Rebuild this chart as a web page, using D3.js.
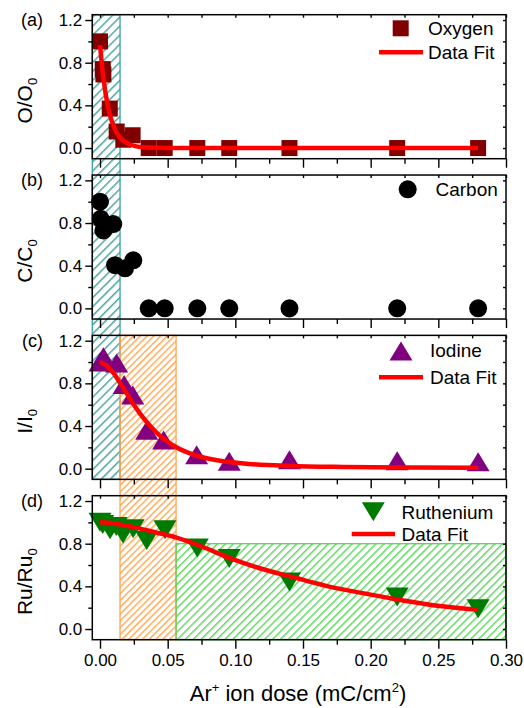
<!DOCTYPE html>
<html><head><meta charset="utf-8">
<script src="https://cdn.jsdelivr.net/npm/d3@7"></script>
<style>
body{margin:0;background:#fff}
svg{display:block}
text{font-family:"Liberation Sans",Arial,Helvetica,sans-serif;fill:#000}
</style>
</head><body>
<svg id="chart" width="524" height="708"></svg>
<script>
// ---------------- data ----------------
const xTicks = [0, 0.05, 0.10, 0.15, 0.20, 0.25, 0.30];
const xMinorTicks = [0.025, 0.075, 0.125, 0.175, 0.225, 0.275];
const yTicks = [0.0, 0.4, 0.8, 1.2];
const yMinorTicks = [0.2, 0.6, 1.0];

const panelLabels = ["(a)", "(b)", "(c)", "(d)"];
const yTitleMain = ["O/O", "C/C", "I/I", "Ru/Ru"];
const yTitleSub = ["0", "0", "0", "0"];

// Oxygen
const doseO = [0, 0.002, 0.0025, 0.0072, 0.0123, 0.0172, 0.0241, 0.036, 0.0478, 0.0719, 0.0955, 0.14, 0.2196, 0.2794];
const oxygen = [1.0, 0.74, 0.69, 0.37, 0.155, 0.078, 0.12, 0, 0, 0, 0, 0, 0, 0];
const fitODose = [0, 0.001, 0.002, 0.003, 0.004, 0.005, 0.006, 0.008, 0.010, 0.012, 0.015, 0.018, 0.022, 0.026, 0.030, 0.040, 0.060, 0.10, 0.20, 0.2794];
const fitO = [0.965, 0.83, 0.71, 0.61, 0.52, 0.45, 0.38, 0.28, 0.21, 0.15, 0.096, 0.061, 0.033, 0.018, 0.010, 0.003, 0, 0, 0, 0];

// Carbon
const doseC = [0, 0.0005, 0.0025, 0.0098, 0.0111, 0.0185, 0.0246, 0.036, 0.0478, 0.0719, 0.0955, 0.14, 0.2196, 0.2794];
const carbon = [1.0, 0.84, 0.73, 0.79, 0.405, 0.375, 0.45, 0, 0, 0, 0, 0, 0, 0];

// Iodine
const doseI = [0, 0.0025, 0.0123, 0.0178, 0.0242, 0.0345, 0.047, 0.0714, 0.0955, 0.14, 0.2196, 0.2794];
const iodine = [1.0, 1.05, 0.99, 0.79, 0.69, 0.36, 0.27, 0.13, 0.07, 0.085, 0.075, 0.066];
const fitIDose = [0, 0.005, 0.010, 0.015, 0.020, 0.025, 0.030, 0.035, 0.040, 0.047, 0.055, 0.065, 0.075, 0.090, 0.110, 0.140, 0.180, 0.230, 0.2794];
const fitI = [1.0, 0.965, 0.895, 0.80, 0.70, 0.60, 0.51, 0.43, 0.36, 0.28, 0.21, 0.15, 0.11, 0.072, 0.045, 0.026, 0.016, 0.011, 0.009];

// Ruthenium
const doseR = [0, 0.002, 0.0074, 0.012, 0.017, 0.0245, 0.0345, 0.048, 0.0719, 0.0955, 0.14, 0.2196, 0.2794];
const ruthenium = [1.0, 0.98, 0.93, 0.96, 0.89, 0.94, 0.83, 0.93, 0.76, 0.66, 0.44, 0.30, 0.19];
const fitRDose = [0, 0.010, 0.025, 0.040, 0.056, 0.074, 0.098, 0.118, 0.143, 0.167, 0.199, 0.224, 0.251, 0.2794];
const fitR = [1.0, 0.99, 0.955, 0.91, 0.86, 0.78, 0.655, 0.57, 0.485, 0.405, 0.325, 0.268, 0.215, 0.18];

// shaded dose regions
const tealRegion = [null, 0.0148];     // from axis start
const orangeRegion = [0.0148, 0.0562];
const greenRegion = [0.0562, 0.30, 0.8]; // x0, x1, top value

// ---------------- layout ----------------
const svg = d3.select("#chart");
const FONT = '"Liberation Sans",Arial,Helvetica,sans-serif';
const xScale = d3.scaleLinear().domain([-0.0057, 0.30]).range([92.3, 506]);
const panelTop0 = 14.7, panelStep = 160.33, panelH = 144;
const yScales = [0, 1, 2, 3].map(i => {
  const t = panelTop0 + i * panelStep;
  return d3.scaleLinear().domain([-0.1, 1.25]).range([t + panelH, t]);
});
const X0 = xScale.range()[0], X1 = xScale.range()[1];

// patterns
const defs = svg.append("defs");
function hatch(id, color, spacing, sw) {
  const p = defs.append("pattern").attr("id", id)
    .attr("patternUnits", "userSpaceOnUse")
    .attr("width", spacing).attr("height", spacing)
    .attr("patternTransform", "rotate(45)");
  p.append("line").attr("x1", 0.8).attr("y1", 0).attr("x2", 0.8).attr("y2", spacing)
    .attr("stroke", color).attr("stroke-width", sw);
}
const tealC = "#238f8f", orangeC = "#ff8c1a", greenC = "#2ec82e";
hatch("hTeal", tealC, 6.4, 1.2);
hatch("hOrange", orangeC, 4.8, 1.1);
hatch("hGreen", greenC, 5.6, 1.1);

// teal region: panel a top to panel c bottom
{
  const xa = X0, xb = xScale(tealRegion[1]);
  const ya = yScales[0].range()[1], yb = yScales[2].range()[0];
  svg.append("rect").attr("x", xa).attr("y", ya).attr("width", xb - xa).attr("height", yb - ya)
    .attr("fill", "url(#hTeal)").attr("stroke", "#3aa0a0").attr("stroke-width", 1.3);
}
// orange region: panel c top to panel d bottom
{
  const xa = xScale(orangeRegion[0]), xb = xScale(orangeRegion[1]);
  const ya = yScales[2].range()[1], yb = yScales[3].range()[0];
  svg.append("rect").attr("x", xa).attr("y", ya).attr("width", xb - xa).attr("height", yb - ya)
    .attr("fill", "url(#hOrange)").attr("stroke", "#ffa54d").attr("stroke-width", 1.3);
}
// green region: panel d
{
  const xa = xScale(greenRegion[0]), xb = xScale(greenRegion[1]);
  const ya = yScales[3](greenRegion[2]), yb = yScales[3].range()[0];
  svg.append("rect").attr("x", xa).attr("y", ya).attr("width", xb - xa).attr("height", yb - ya)
    .attr("fill", "url(#hGreen)").attr("stroke", "#5ad65a").attr("stroke-width", 1.3);
}

// markers
function markerPath(type, cx, cy) {
  const p = d3.path();
  if (type === "square") { const h = 8; p.rect(cx - h, cy - h, 2 * h, 2 * h); }
  else if (type === "circle") { p.arc(cx, cy, 9, 0, 2 * Math.PI); }
  else if (type === "up") { const w = 11.5, h = 9.5; p.moveTo(cx, cy - h); p.lineTo(cx + w, cy + h); p.lineTo(cx - w, cy + h); p.closePath(); }
  else if (type === "down") { const w = 11.5, h = 9.5; p.moveTo(cx - w, cy - h); p.lineTo(cx + w, cy - h); p.lineTo(cx, cy + h); p.closePath(); }
  return p.toString();
}

const panels = [
  { dose: doseO, vals: oxygen, type: "square", color: "#800000", fitX: fitODose, fitY: fitO, name: "Oxygen",
    leg: { mx: 400.7, my: 28.3, tx: 428, ty: 35, lx0: 379, lx1: 423, ly: 52.3, fty: 59.3 } },
  { dose: doseC, vals: carbon, type: "circle", color: "#000000", fitX: null, name: "Carbon",
    leg: { mx: 407.7, my: 189.3, tx: 435.5, ty: 196 } },
  { dose: doseI, vals: iodine, type: "up", color: "#800080", fitX: fitIDose, fitY: fitI, name: "Iodine",
    leg: { mx: 401, my: 351, tx: 430, ty: 357, lx0: 379, lx1: 423, ly: 377.3, fty: 383.5 } },
  { dose: doseR, vals: ruthenium, type: "down", color: "#007a00", fitX: fitRDose, fitY: fitR, name: "Ruthenium",
    leg: { mx: 373.3, my: 511.7, tx: 401.5, ty: 518.5, lx0: 351.7, lx1: 395, ly: 534, fty: 541 } }
];

panels.forEach((P, i) => {
  const y = yScales[i];
  const g = svg.append("g");
  const pts = P.dose.map((d, k) => [d, P.vals[k]]);
  g.selectAll("path.m").data(pts).enter().append("path")
    .attr("d", d => markerPath(P.type, xScale(d[0]), y(d[1])))
    .attr("fill", P.color);
  if (P.fitX) {
    const fp = P.fitX.map((d, k) => [d, P.fitY[k]]);
    g.append("path").datum(fp)
      .attr("d", d3.line().x(d => xScale(d[0])).y(d => y(d[1])).curve(d3.curveMonotoneX))
      .attr("fill", "none").attr("stroke", "#ff0000").attr("stroke-width", 4.5);
  }

  // frame & axes
  const yt = y.range()[1], yb = y.range()[0];
  const ax = svg.append("g").attr("class", "axes");
  const styleAxis = sel => {
    sel.select(".domain").remove();
    sel.selectAll(".tick line").attr("stroke", "#000").attr("stroke-width", 1.4);
    sel.selectAll(".tick text").attr("font-size", 17).attr("font-family", FONT).attr("fill", "#000");
  };
  ax.append("g").attr("transform", `translate(${X0},0)`)
    .call(d3.axisLeft(y).tickValues(yTicks).tickSize(7).tickPadding(3).tickFormat(d3.format(".1f"))).call(styleAxis);
  ax.append("g").attr("transform", `translate(${X0},0)`)
    .call(d3.axisLeft(y).tickValues(yMinorTicks).tickSize(4).tickFormat("")).call(styleAxis);
  ax.append("g").attr("transform", `translate(${X1},0)`)
    .call(d3.axisRight(y).tickValues(yTicks.concat(yMinorTicks)).tickSize(-3).tickFormat("")).call(styleAxis);
  ax.append("g").attr("transform", `translate(0,${yb})`)
    .call(d3.axisBottom(xScale).tickValues(xTicks).tickSize(9).tickPadding(5)
      .tickFormat(i === 3 ? d3.format(".2f") : () => "")).call(styleAxis);
  ax.append("g").attr("transform", `translate(0,${yb})`)
    .call(d3.axisBottom(xScale).tickValues(xMinorTicks).tickSize(5).tickFormat("")).call(styleAxis);
  ax.append("g").attr("transform", `translate(0,${yt})`)
    .call(d3.axisTop(xScale).tickValues(xTicks.concat(xMinorTicks)).tickSize(-3).tickFormat("")).call(styleAxis);
  ax.append("rect").attr("x", X0).attr("y", yt).attr("width", X1 - X0).attr("height", yb - yt)
    .attr("fill", "none").attr("stroke", "#000").attr("stroke-width", 1.5);

  // panel label
  svg.append("text").attr("x", 43).attr("y", y(1.2) + 6).attr("text-anchor", "end")
    .attr("font-size", 18).text(panelLabels[i]);

  // y title
  const cy = (yt + yb) / 2 + 14;
  const tt = svg.append("text").attr("transform", `translate(32,${cy}) rotate(-90)`)
    .attr("text-anchor", "middle").attr("font-size", 21);
  tt.append("tspan").text(yTitleMain[i]);
  tt.append("tspan").attr("font-size", 13).attr("dy", 5).text(yTitleSub[i]);

  // legend
  const L = P.leg;
  svg.append("path").attr("d", markerPath(P.type, L.mx, L.my)).attr("fill", P.color);
  svg.append("text").attr("x", L.tx).attr("y", L.ty).attr("font-size", 19).text(P.name);
  if (P.fitX) {
    svg.append("line").attr("x1", L.lx0).attr("x2", L.lx1).attr("y1", L.ly).attr("y2", L.ly)
      .attr("stroke", "#ff0000").attr("stroke-width", 4.5);
    svg.append("text").attr("x", L.tx).attr("y", L.fty).attr("font-size", 19).text("Data Fit");
  }
});

// x title
const xt = svg.append("text").attr("x", 298).attr("y", 701).attr("text-anchor", "middle").attr("font-size", 22);
xt.append("tspan").text("Ar");
xt.append("tspan").attr("font-size", 13).attr("dy", -9).text("+");
xt.append("tspan").attr("dy", 9).text(" ion dose (mC/cm");
xt.append("tspan").attr("font-size", 13).attr("dy", -9).text("2");
xt.append("tspan").attr("dy", 9).text(")");
</script>
</body></html>
